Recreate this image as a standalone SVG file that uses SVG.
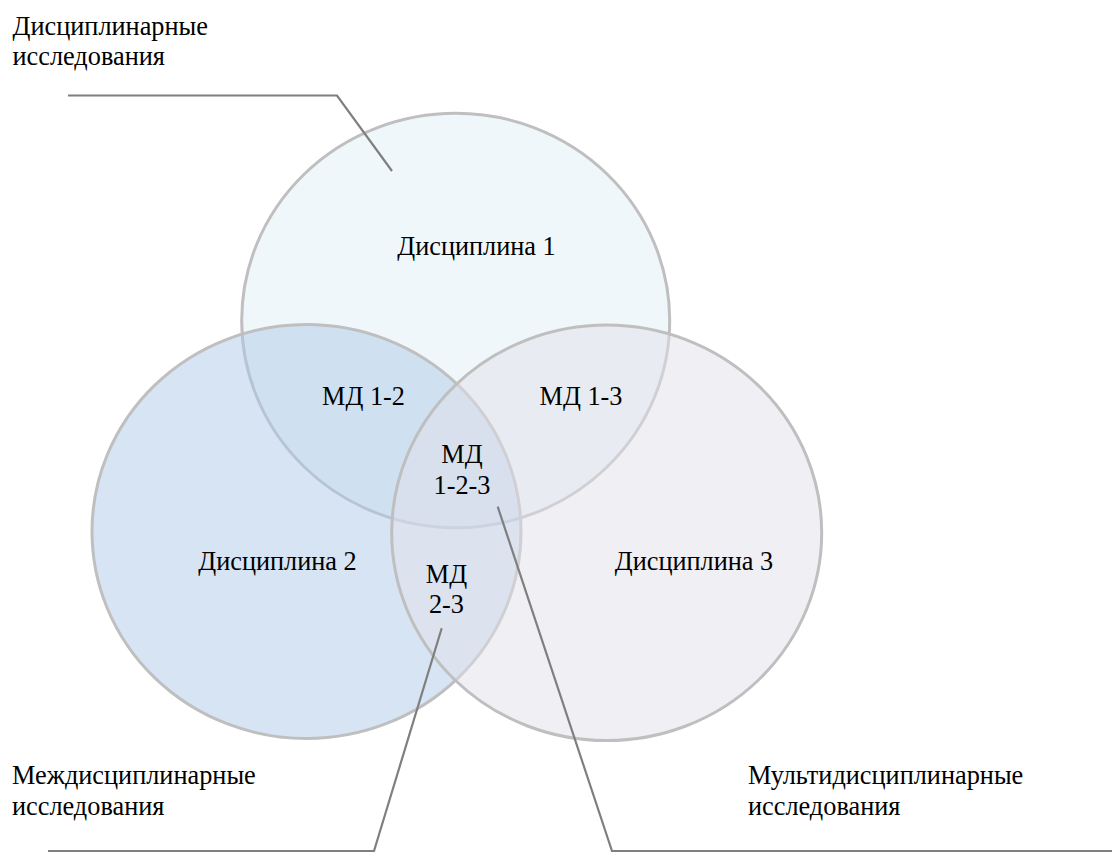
<svg xmlns="http://www.w3.org/2000/svg" width="1117" height="853" viewBox="0 0 1117 853">
<style>
.c{stroke:#bfbfbf;stroke-width:3;fill-opacity:0.5}
.t{font-family:'Liberation Serif',Tinos,'Times New Roman',Times,serif;font-size:26.3px;fill:#000}
.m{text-anchor:middle}
.l{fill:none;stroke:#7f7f7f;stroke-width:2.2}
</style>
<rect width="1117" height="853" fill="#fff"/>
<g id="disc1"><ellipse class="c" cx="455.7" cy="320.5" rx="214" ry="207.2" fill="#e1eff5"/></g>
<g id="disc2"><ellipse class="c" cx="306.5" cy="531.5" rx="214.5" ry="207" fill="#adc9e7"/></g>
<g id="disc3"><ellipse class="c" cx="606.7" cy="532.8" rx="215" ry="207.8" fill="#e1dfe9"/></g>
<g id="connectors">
<polyline class="l" points="68,95.5 337,95.5 392,171"/>
<polyline class="l" points="48,851 374,851 441.7,628.3"/>
<polyline class="l" points="497.7,506.7 612,851 1112,851"/>
</g>
<g id="labels">
<text class="t m" x="476.5" y="255">Дисциплина 1</text>
<text class="t m" x="277.5" y="570">Дисциплина 2</text>
<text class="t m" x="694" y="570">Дисциплина 3</text>
<text class="t m" x="363.5" y="405">МД 1-2</text>
<text class="t m" x="581" y="405">МД 1-3</text>
<text class="t m" x="462" y="463">МД</text>
<text class="t m" x="462" y="494">1-2-3</text>
<text class="t m" x="446.5" y="583">МД</text>
<text class="t m" x="446.5" y="613">2-3</text>
<text class="t" x="12.5" y="35">Дисциплинарные</text>
<text class="t" x="12.5" y="65">исследования</text>
<text class="t" x="12" y="784">Междисциплинарные</text>
<text class="t" x="12" y="815">исследования</text>
<text class="t" x="748" y="784">Мультидисциплинарные</text>
<text class="t" x="748" y="815">исследования</text>
</g>
</svg>
